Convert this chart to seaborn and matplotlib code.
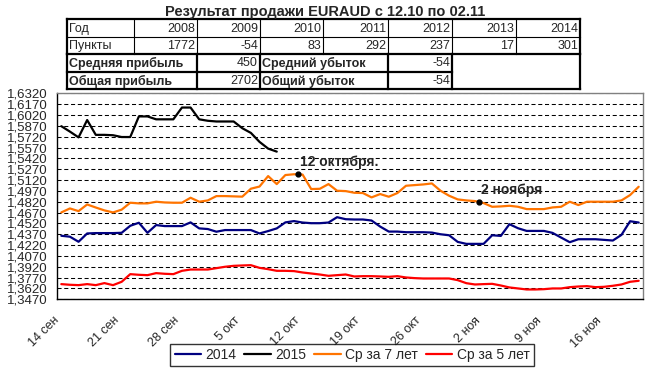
import numpy as np
import pandas as pd
import matplotlib
matplotlib.use("Agg")
import matplotlib.pyplot as plt
from matplotlib.lines import Line2D
import seaborn as sns

# ==========================================================
# 1. DADOS
# ==========================================================
start_date = "2015-09-14"
n_days = 68

s2014 = [1.4349, 1.4336, 1.4266, 1.4381, 1.4386, 1.4386, 1.4386, 1.4390, 1.4487, 1.4529,
         1.4390, 1.4497, 1.4483, 1.4483, 1.4483, 1.4534, 1.4451, 1.4442, 1.4405, 1.4428,
         1.4428, 1.4428, 1.4428, 1.4381, 1.4414, 1.4451, 1.4534, 1.4552, 1.4532, 1.4523,
         1.4523, 1.4532, 1.4606, 1.4578, 1.4574, 1.4574, 1.4560, 1.4476, 1.4407, 1.4407,
         1.4398, 1.4398, 1.4398, 1.4393, 1.4370, 1.4356, 1.4264, 1.4237, 1.4237, 1.4237,
         1.4356, 1.4347, 1.4509, 1.4453, 1.4416, 1.4416, 1.4416, 1.4389, 1.4324, 1.4260,
         1.4301, 1.4301, 1.4301, 1.4292, 1.4283, 1.4361, 1.4550, 1.4532]

s2015 = [1.5865, 1.5790, 1.5710, 1.5950, 1.5745, 1.5745, 1.5740, 1.5715, 1.5715, 1.6000,
         1.6000, 1.5960, 1.5960, 1.5960, 1.6123, 1.6123, 1.5960, 1.5940, 1.5930, 1.5930,
         1.5930, 1.5837, 1.5772, 1.5648, 1.5555, 1.5513]

avg7 = [1.4672, 1.4727, 1.4690, 1.4782, 1.4740, 1.4700, 1.4672, 1.4710, 1.4806, 1.4797,
        1.4797, 1.4820, 1.4810, 1.4806, 1.4806, 1.4875, 1.4820, 1.4838, 1.4898, 1.4898,
        1.4894, 1.4890, 1.5000, 1.5030, 1.5175, 1.5064, 1.5189, 1.5200, 1.5195, 1.4995,
        1.4999, 1.5064, 1.4972, 1.4967, 1.4944, 1.4940, 1.4880, 1.4926, 1.4889, 1.4940,
        1.5041, 1.5050, 1.5059, 1.5073, 1.4972, 1.4903, 1.4852, 1.4838, 1.4829, 1.4801,
        1.4750, 1.4755, 1.4764, 1.4750, 1.4718, 1.4718, 1.4718, 1.4741, 1.4750, 1.4820,
        1.4774, 1.4820, 1.4820, 1.4820, 1.4820, 1.4838, 1.4912, 1.5027]

avg5 = [1.3680, 1.3671, 1.3666, 1.3680, 1.3666, 1.3694, 1.3666, 1.3712, 1.3818, 1.3809,
        1.3804, 1.3832, 1.3823, 1.3818, 1.3864, 1.3882, 1.3882, 1.3882, 1.3901, 1.3920,
        1.3933, 1.3938, 1.3942, 1.3905, 1.3887, 1.3864, 1.3864, 1.3860, 1.3841, 1.3827,
        1.3813, 1.3795, 1.3804, 1.3813, 1.3786, 1.3790, 1.3790, 1.3786, 1.3781, 1.3790,
        1.3772, 1.3763, 1.3758, 1.3758, 1.3758, 1.3758, 1.3735, 1.3693, 1.3675, 1.3680,
        1.3684, 1.3661, 1.3634, 1.3620, 1.3606, 1.3606, 1.3610, 1.3620, 1.3620, 1.3638,
        1.3647, 1.3652, 1.3638, 1.3643, 1.3657, 1.3675, 1.3712, 1.3726]

series_names = ["2014", "2015", "Ср за 7 лет", "Ср за 5 лет"]
series_colors = ["#000080", "#000000", "#FF7400", "#FF0000"]

x_tick_labels = ["14 сен", "21 сен", "28 сен", "5 окт", "12 окт",
                 "19 окт", "26 окт", "2 ноя", "9 ноя", "16 ноя"]

y_min, y_max, y_step = 1.3470, 1.6320, 0.015

# marcações
notes = ["12 октября.", "2 ноября"]
note_dates = ["2015-10-12", "2015-11-02"]
note_values = [1.5203, 1.4820]

# tabela
years = ["2008", "2009", "2010", "2011", "2012", "2013", "2014"]
points = ["1772", "-54", "83", "292", "237", "17", "301"]
avg_profit, avg_loss = "450", "-54"
total_profit, total_loss = "2702", "-54"

title = "Результат продажи EURAUD с 12.10 по 02.11"

# ==========================================================
# 2. MONTAR DATAFRAME
# ==========================================================
dates = pd.date_range(start_date + " 12:00", periods=n_days, freq="D")
frames = []
for name, vals in zip(series_names, [s2014, s2015, avg7, avg5]):
    frames.append(pd.DataFrame({"date": dates[:len(vals)], "value": vals, "serie": name}))
df = pd.concat(frames, ignore_index=True)

# ==========================================================
# 3. GRÁFICO
# ==========================================================
sns.set_style("white")
plt.rcParams["font.family"] = ["Liberation Sans", "DejaVu Sans"]

W, H = 650, 370
fig = plt.figure(figsize=(W / 100, H / 100), dpi=100)
ax = fig.add_axes([57 / W, 1 - 299.3 / H, 586 / W, 206 / H])

sns.lineplot(data=df, x="date", y="value", hue="serie", hue_order=series_names,
             palette=dict(zip(series_names, series_colors)), lw=1.6, ax=ax)

x0 = pd.Timestamp(start_date)
ax.set_xlim(x0, x0 + pd.Timedelta(days=n_days))
ax.set_ylim(y_min, y_max)

yticks = np.round(np.arange(y_min, y_max + y_step / 2, y_step), 4)
ax.set_yticks(yticks)
ax.set_yticklabels([f"{v:.4f}".replace(".", ",") for v in yticks], fontsize=9.5)

xticks = [x0 + pd.Timedelta(days=7 * i) for i in range(len(x_tick_labels))]
ax.set_xticks(xticks)
ax.set_xticklabels(x_tick_labels, rotation=45, ha="right", va="center",
                   rotation_mode="anchor", fontsize=9)

ax.tick_params(axis="both", direction="out", length=3, width=0.8, color="black")
ax.tick_params(axis="x", pad=11)
ax.tick_params(axis="y", pad=4)
ax.set_xlabel("")
ax.set_ylabel("")

ax.yaxis.grid(True, color="black", lw=0.75, linestyle=(0, (3.9, 2.6)))
ax.set_axisbelow(True)

for side in ["left", "bottom"]:
    ax.spines[side].set_color("black")
    ax.spines[side].set_linewidth(1.0)
for side in ["top", "right"]:
    ax.spines[side].set_color("#808080")
    ax.spines[side].set_linewidth(1.0)

# pontos anotados
for txt, d, v in zip(notes, note_dates, note_values):
    ax.plot([pd.Timestamp(d)], [v], "o", color="black", ms=3.5, zorder=5)
    ax.annotate(txt, (pd.Timestamp(d), v), xytext=(1.5, 3.5), textcoords="offset points",
                fontsize=10, fontweight="bold", ha="left", va="bottom")

sns.move_legend(ax, "center", bbox_to_anchor=(352 / W, 1 - 355 / H),
                bbox_transform=fig.transFigure, ncol=4, title=None, frameon=True,
                fancybox=False, edgecolor="black", fontsize=10, handlelength=1.9,
                handletextpad=0.3, columnspacing=0.6, borderpad=0.3)
leg = ax.get_legend()
leg.get_frame().set_linewidth(1.0)
for line in leg.get_lines():
    line.set_linewidth(1.6)

# ==========================================================
# 4. TÍTULO E TABELA
# ==========================================================
def fx(x):
    return x / W

def fy(y):
    return 1 - y / H

def hline(x_a, x_b, y, lw):
    fig.add_artist(Line2D([fx(x_a), fx(x_b)], [fy(y), fy(y)], color="black", lw=lw,
                          solid_capstyle="projecting"))

def vline(x, y_a, y_b, lw):
    fig.add_artist(Line2D([fx(x), fx(x)], [fy(y_a), fy(y_b)], color="black", lw=lw,
                          solid_capstyle="projecting"))

fig.text(fx(325.5), fy(12), title, ha="center", va="center", fontsize=10.5, fontweight="bold")

cols = [67, 134, 197, 260, 323, 388, 452, 516, 580]
rows = [19.3, 37.3, 53.5, 71.7, 89.3]
thin, thick = 0.8, 1.6

# linhas 1-2
hline(cols[0], cols[-1], rows[0], thick)
hline(cols[0], cols[-1], rows[1], thin)
hline(cols[0], cols[-1], rows[2], thick)
vline(cols[0], rows[0], rows[2], thick)
vline(cols[-1], rows[0], rows[2], thick)
for c in cols[1:-1]:
    vline(c, rows[0], rows[2], thin)

# linhas 3-4
hline(cols[0], cols[-1], rows[4], thick)
hline(cols[0], cols[6], rows[3], thick)
for c in [cols[0], cols[2], cols[3], cols[5], cols[6], cols[-1]]:
    vline(c, rows[2], rows[4], thick)

def cy(i):
    return fy((rows[i] + rows[i + 1]) / 2 + 0.5)

fig.text(fx(cols[0] + 2), cy(0), "Год", ha="left", va="center", fontsize=9)
fig.text(fx(cols[0] + 2), cy(1), "Пункты", ha="left", va="center", fontsize=9)
for i, (yr, pt) in enumerate(zip(years, points)):
    fig.text(fx(cols[i + 2] - 2), cy(0), yr, ha="right", va="center", fontsize=9)
    fig.text(fx(cols[i + 2] - 2), cy(1), pt, ha="right", va="center", fontsize=9)

fig.text(fx(cols[0] + 2), cy(2), "Средняя прибыль", ha="left", va="center",
         fontsize=9, fontweight="bold")
fig.text(fx(cols[0] + 2), cy(3), "Общая прибыль", ha="left", va="center",
         fontsize=9, fontweight="bold")
fig.text(fx(cols[3] - 2), cy(2), avg_profit, ha="right", va="center", fontsize=9)
fig.text(fx(cols[3] - 2), cy(3), total_profit, ha="right", va="center", fontsize=9)
fig.text(fx(cols[3] + 2), cy(2), "Средний убыток", ha="left", va="center",
         fontsize=9, fontweight="bold")
fig.text(fx(cols[3] + 2), cy(3), "Общий убыток", ha="left", va="center",
         fontsize=9, fontweight="bold")
fig.text(fx(cols[6] - 2), cy(2), avg_loss, ha="right", va="center", fontsize=9)
fig.text(fx(cols[6] - 2), cy(3), total_loss, ha="right", va="center", fontsize=9)

fig.savefig("out.png", dpi=100, facecolor="white")
plt.close(fig)
